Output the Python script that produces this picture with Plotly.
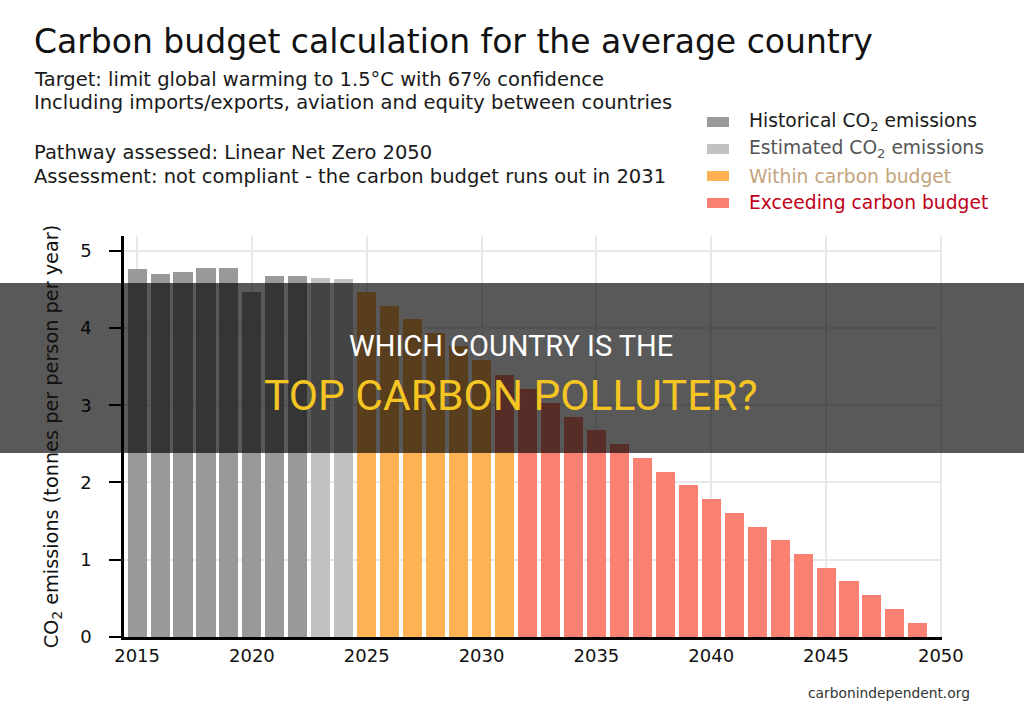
import plotly.graph_objects as go

# ---- data ----
hist_years = [2015, 2016, 2017, 2018, 2019, 2020, 2021, 2022]
hist_vals = [4.76, 4.70, 4.72, 4.77, 4.77, 4.47, 4.67, 4.67]

est_years = [2023, 2024]
est_vals = [4.65, 4.64]

within_years = [2025, 2026, 2027, 2028, 2029, 2030, 2031]
within_vals = [4.47, 4.29, 4.12, 3.93, 3.76, 3.58, 2.40]

exceed_years = [2031, 2032, 2033, 2034, 2035, 2036, 2037, 2038, 2039, 2040,
                2041, 2042, 2043, 2044, 2045, 2046, 2047, 2048, 2049]
exceed_vals = [0.99, 3.21, 3.03, 2.85, 2.68, 2.50, 2.32, 2.14, 1.97, 1.79,
               1.61, 1.43, 1.26, 1.07, 0.89, 0.72, 0.54, 0.36, 0.18]

x_ticks = [2015, 2020, 2025, 2030, 2035, 2040, 2045, 2050]
y_ticks = [0, 1, 2, 3, 4, 5]

legend_labels = ["Historical CO<sub>2</sub> emissions", "Estimated CO<sub>2</sub> emissions",
                 "Within carbon budget", "Exceeding carbon budget"]

C_HIST = "#999999"
C_EST = "#c2c2c2"
C_WITHIN = "#fcb255"
C_EXCEED = "#fa8072"

W, H = 1024, 716
ML, MR, MT, MB = 124, 82, 236, 79
PW = W - ML - MR
PH = H - MT - MB


def px(x):
    return (x - ML) / PW


def py(y):
    return (H - MB - y) / PH


FONT = "DejaVu Sans, Verdana, sans-serif"

fig = go.Figure()
for yrs, vals, col in [(hist_years, hist_vals, C_HIST), (est_years, est_vals, C_EST),
                       (within_years, within_vals, C_WITHIN), (exceed_years, exceed_vals, C_EXCEED)]:
    fig.add_trace(go.Bar(x=yrs, y=vals, marker=dict(color=col, line=dict(width=0)),
                         showlegend=False, hoverinfo="x+y"))

annotations = []
shapes = []

# titles
annotations.append(dict(text="Carbon budget calculation for the average country",
                        x=px(32), y=py(41), xref="paper", yref="paper", xanchor="left", yanchor="middle",
                        showarrow=False, font=dict(family=FONT, size=33, color="#111111")))
sub_lines = [("Target: limit global warming to 1.5°C with 67% confidence", 79),
             ("Including imports/exports, aviation and equity between countries", 103),
             ("Pathway assessed: Linear Net Zero 2050", 153),
             ("Assessment: not compliant - the carbon budget runs out in 2031", 177)]
for t, yy in sub_lines:
    annotations.append(dict(text=t, x=px(32), y=py(yy), xref="paper", yref="paper",
                            xanchor="left", yanchor="middle", showarrow=False,
                            font=dict(family=FONT, size=19.5, color="#1a1a1a")))

# legend (manual)
leg_cols = [C_HIST, C_EST, C_WITHIN, C_EXCEED]
leg_text_cols = ["#1a1a1a", "#555555", "#c4a47c", "#c0001a"]
leg_y = [122, 149, 176, 203]
for lab, c, tc, yy in zip(legend_labels, leg_cols, leg_text_cols, leg_y):
    shapes.append(dict(type="rect", xref="paper", yref="paper", x0=px(707), x1=px(729),
                       y0=py(yy - 5), y1=py(yy + 5), fillcolor=c, line=dict(width=0)))
    annotations.append(dict(text=lab, x=px(747), y=py(yy), xref="paper", yref="paper",
                            xanchor="left", yanchor="middle", showarrow=False,
                            font=dict(family=FONT, size=18.7, color=tc)))

# source
annotations.append(dict(text="carbonindependent.org", x=px(972), y=py(693), xref="paper", yref="paper",
                        xanchor="right", yanchor="middle", showarrow=False,
                        font=dict(family=FONT, size=13.8, color="#333333")))

# overlay band
shapes.append(dict(type="rect", xref="paper", yref="paper", x0=px(0), x1=px(W),
                   y0=py(453), y1=py(283), fillcolor="rgba(0,0,0,0.65)", line=dict(width=0),
                   layer="above"))
OFONT = "Roboto, Liberation Sans, sans-serif"
annotations.append(dict(text="WHICH COUNTRY IS THE", x=px(511), y=py(346), xref="paper", yref="paper",
                        xanchor="center", yanchor="middle", showarrow=False,
                        font=dict(family=OFONT, size=29, color="#ffffff")))
annotations.append(dict(text="TOP CARBON POLLUTER?", x=px(511), y=py(395), xref="paper", yref="paper",
                        xanchor="center", yanchor="middle", showarrow=False,
                        font=dict(family=OFONT, size=42.5, color="#f5c523")))

fig.update_layout(
    width=W, height=H,
    margin=dict(l=ML, r=MR, t=MT, b=MB, autoexpand=False),
    paper_bgcolor="white", plot_bgcolor="white",
    barmode="stack", bargap=0.17,
    font=dict(family=FONT, size=18, color="#111111"),
    annotations=annotations, shapes=shapes,
    showlegend=False,
)
fig.update_xaxes(range=[2014.43, 2050.05], tickvals=x_ticks, ticktext=[str(v) for v in x_ticks],
                 showgrid=True, gridcolor="#e8e8e8", gridwidth=2,
                 showline=True, linecolor="black", linewidth=3, ticks="",
                 tickfont=dict(size=18, color="#111111"), zeroline=False)
fig.update_yaxes(range=[0, 5.19], tickvals=y_ticks, ticktext=[str(v) for v in y_ticks],
                 showgrid=True, gridcolor="#e8e8e8", gridwidth=2,
                 showline=True, linecolor="black", linewidth=2.5,
                 ticks="outside", ticklen=12, tickwidth=2, tickcolor="black",
                 ticklabelstandoff=14,
                 tickfont=dict(size=18, color="#111111"), zeroline=False,
                 title=dict(text="CO<sub>2</sub> emissions (tonnes per person per year)",
                            font=dict(size=19.3, color="#111111"), standoff=17))

fig.write_html("out.html")
